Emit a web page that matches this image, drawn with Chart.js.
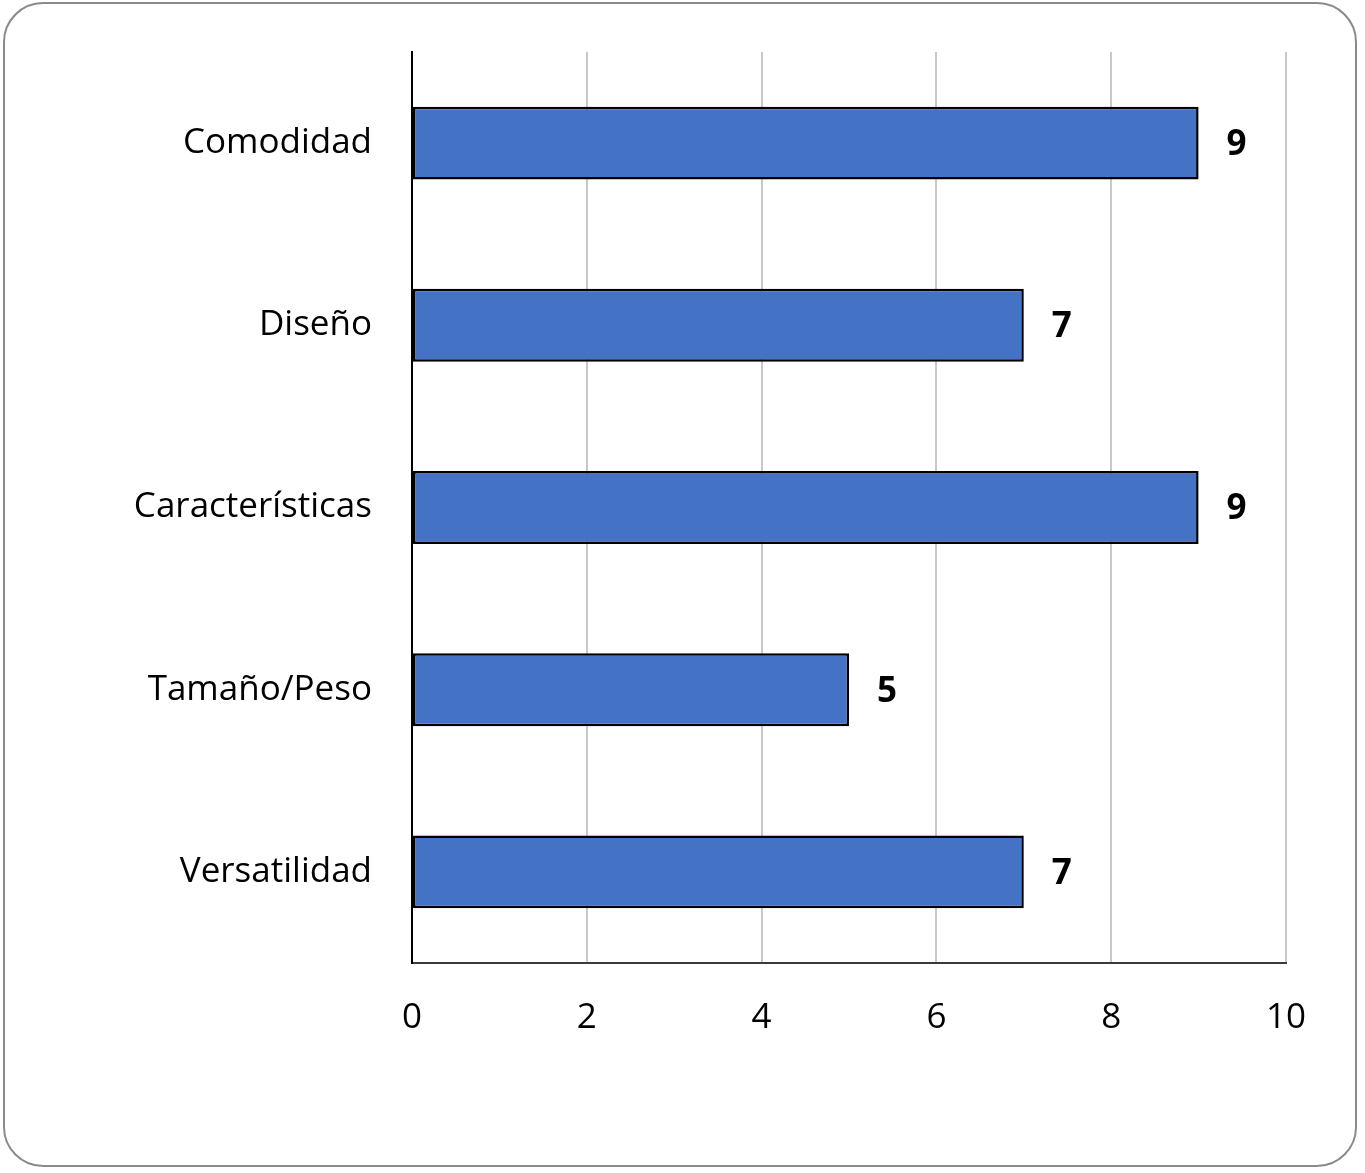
<!DOCTYPE html>
<html>
<head>
<meta charset="utf-8">
<script src="https://cdn.jsdelivr.net/npm/chart.js@4/dist/chart.umd.min.js"></script>
<style>
  html, body { margin: 0; padding: 0; background: #ffffff; }
  #wrap { position: relative; width: 1365px; height: 1173px; }
  #c { position: absolute; left: 0; top: 0; }
  #frame { position: absolute; left: 3px; top: 2px; width: 1350px; height: 1161px;
           border: 2px solid #8a8a8a; border-radius: 40px; pointer-events: none; }
</style>
</head>
<body>
<div id="wrap">
  <canvas id="c" width="1365" height="1173"></canvas>
  <div id="frame"></div>
</div>
<script>
const categories = ["Comodidad", "Diseño", "Características", "Tamaño/Peso", "Versatilidad"];
const values = [9, 7, 9, 5, 7];
const xTicks = [0, 2, 4, 6, 8, 10];

const FONT = "'Open Sans', 'DejaVu Sans', sans-serif";

const valueLabels = {
  id: 'valueLabels',
  afterDatasetsDraw(chart) {
    const ctx = chart.ctx;
    const meta = chart.getDatasetMeta(0);
    ctx.save();
    ctx.font = "bold 35px " + FONT;
    ctx.fillStyle = "#000000";
    ctx.textAlign = "left";
    ctx.textBaseline = "middle";
    meta.data.forEach((el, i) => {
      ctx.fillText(String(chart.data.datasets[0].data[i]), el.x + 28, el.y + 2);
    });
    ctx.restore();
  }
};

new Chart(document.getElementById('c'), {
  type: 'bar',
  data: {
    labels: categories,
    datasets: [{
      data: values,
      backgroundColor: '#4472C4',
      borderColor: '#000000',
      borderWidth: 2.5,
      borderSkipped: false,
      categoryPercentage: 1.0,
      barPercentage: 0.4
    }]
  },
  options: {
    indexAxis: 'y',
    responsive: false,
    animation: false,
    layout: { padding: { top: 52, right: 79, bottom: 0, left: 0 } },
    plugins: { legend: { display: false }, tooltip: { enabled: false } },
    scales: {
      x: {
        min: 0, max: 10,
        afterBuildTicks(scale) { scale.ticks = xTicks.map(v => ({ value: v })); },
        afterFit(scale) { scale.height = 1173 - 963; },
        ticks: { color: '#000000', font: { family: FONT, size: 35 }, padding: 34, maxRotation: 0 },
        grid: { color: '#c8c8c8', lineWidth: 2, drawTicks: false },
        border: { display: true, color: '#3a3a3a', width: 2 }
      },
      y: {
        afterFit(scale) { scale.width = 412; scale.paddingTop = 0; scale.paddingBottom = 0; },
        ticks: { color: '#000000', font: { family: FONT, size: 35 }, padding: 40 },
        grid: { display: false, drawTicks: false },
        border: { display: true, color: '#000000', width: 2 }
      }
    }
  },
  plugins: [valueLabels]
});
</script>
</body>
</html>
